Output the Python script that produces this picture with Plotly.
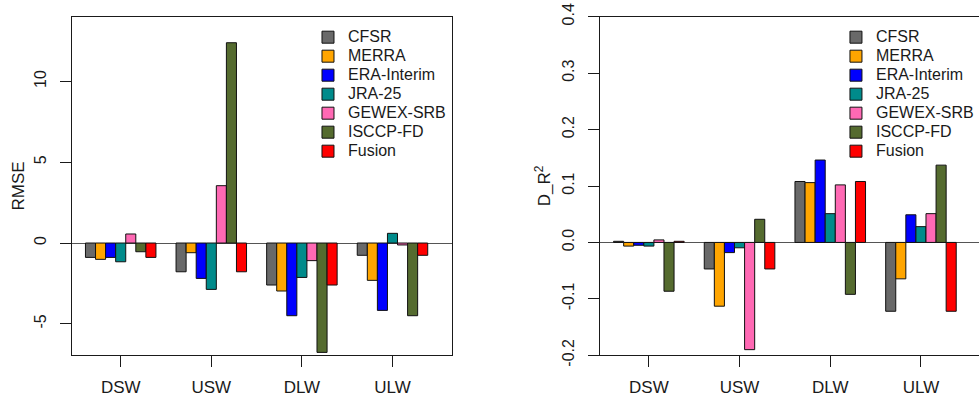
import plotly.graph_objects as go

# Radiation components on the category axis
components = ["DSW", "USW", "DLW", "ULW"]

# Products compared in both panels
products = ["CFSR", "MERRA", "ERA-Interim", "JRA-25", "GEWEX-SRB", "ISCCP-FD", "Fusion"]
product_colors = ["#696969", "#FFA500", "#0000FF", "#008B8B", "#FF69B4", "#556B2F", "#FF0000"]

# RMSE values per product (DSW, USW, DLW, ULW)
rmse_cfsr = [-0.89, -1.78, -2.60, -0.76]
rmse_merra = [-1.01, -0.60, -2.97, -2.31]
rmse_era = [-0.89, -2.19, -4.50, -4.17]
rmse_jra = [-1.16, -2.87, -2.13, 0.60]
rmse_gewex = [0.56, 3.55, -1.09, -0.12]
rmse_isccp = [-0.54, 12.40, -6.77, -4.50]
rmse_fusion = [-0.89, -1.78, -2.60, -0.76]

# D_R^2 values per product (DSW, USW, DLW, ULW)
dr2_cfsr = [0.002, -0.047, 0.108, -0.122]
dr2_merra = [-0.0065, -0.113, 0.106, -0.0645]
dr2_era = [-0.005, -0.018, 0.146, 0.049]
dr2_jra = [-0.0065, -0.0095, 0.051, 0.028]
dr2_gewex = [0.0045, -0.190, 0.102, 0.051]
dr2_isccp = [-0.0865, 0.041, -0.092, 0.137]
dr2_fusion = [0.002, -0.047, 0.108, -0.122]

# Axis tick labels
rmse_ticks = [-5, 0, 5, 10]
rmse_tick_text = ["-5", "0", "5", "10"]
dr2_ticks = [-0.2, -0.1, 0.0, 0.1, 0.2, 0.3, 0.4]
dr2_tick_text = ["-0.2", "-0.1", "0.0", "0.1", "0.2", "0.3", "0.4"]

rmse_series = [rmse_cfsr, rmse_merra, rmse_era, rmse_jra, rmse_gewex, rmse_isccp, rmse_fusion]
dr2_series = [dr2_cfsr, dr2_merra, dr2_era, dr2_jra, dr2_gewex, dr2_isccp, dr2_fusion]

FONT = "Liberation Sans, Arial, sans-serif"
INK = "#1a1a1a"

fig = go.Figure()

for name, color, vals in zip(products, product_colors, rmse_series):
    fig.add_trace(go.Bar(
        x=components, y=vals, name=f"<span style='font-size:16px'>{name}</span>",
        marker=dict(color=color, line=dict(color="#111111", width=1)),
        xaxis="x", yaxis="y", legend="legend",
    ))

for name, color, vals in zip(products, product_colors, dr2_series):
    fig.add_trace(go.Bar(
        x=components, y=vals, name=f"<span style='font-size:16px'>{name}</span>",
        marker=dict(color=color, line=dict(color="#111111", width=1)),
        xaxis="x2", yaxis="y2", legend="legend2",
    ))

xcommon = dict(
    type="category", categoryorder="array", categoryarray=components,
    showline=True, linecolor=INK, linewidth=1, mirror=True,
    ticks="outside", ticklen=11, tickcolor=INK, tickwidth=1,
    ticklabelstandoff=5, automargin=False,
    tickfont=dict(family=FONT, size=17, color=INK),
    showgrid=False, zeroline=False, fixedrange=True,
)
ycommon = dict(
    showline=True, linecolor=INK, linewidth=1, automargin=False,
    ticks="outside", ticklen=11, tickcolor=INK, tickwidth=1,
    tickangle=-90, ticklabelstandoff=8,
    tickfont=dict(family=FONT, size=16, color=INK),
    showgrid=False, zeroline=True, zerolinecolor="#555555", zerolinewidth=1.3,
    title_font=dict(family=FONT, size=17, color=INK),
    fixedrange=True,
)

fig.update_layout(
    width=979, height=398,
    margin=dict(l=0, r=0, t=0, b=0, autoexpand=False),
    paper_bgcolor="white", plot_bgcolor="white",
    barmode="group", bargap=0.222, bargroupgap=0,
    font=dict(family=FONT, color=INK),
    xaxis=dict(xcommon, domain=[0.0736, 0.4617], range=[-0.537, 3.657], anchor="y"),
    yaxis=dict(ycommon, domain=[0.1073, 0.958], range=[-6.95, 14.01], anchor="x",
               tickvals=rmse_ticks, ticktext=rmse_tick_text, mirror=True,
               title_text="RMSE", title_standoff=2),
    xaxis2=dict(xcommon, domain=[0.6132, 1.0], range=[-0.535, 3.64], anchor="y2"),
    yaxis2=dict(ycommon, domain=[0.1073, 0.958], range=[-0.2, 0.4], anchor="x2",
                tickvals=dr2_ticks, ticktext=dr2_tick_text, mirror=False,
                title_text="D_R<sup>2</sup>", title_standoff=4),
    legend=dict(x=0.3146, y=0.943, xanchor="left", yanchor="top",
                bgcolor="rgba(0,0,0,0)", borderwidth=0,
                font=dict(family=FONT, size=12, color=INK)),
    legend2=dict(x=0.8539, y=0.943, xanchor="left", yanchor="top",
                 bgcolor="rgba(0,0,0,0)", borderwidth=0,
                 font=dict(family=FONT, size=12, color=INK)),
    showlegend=True,
)

fig.write_html("out.html")
